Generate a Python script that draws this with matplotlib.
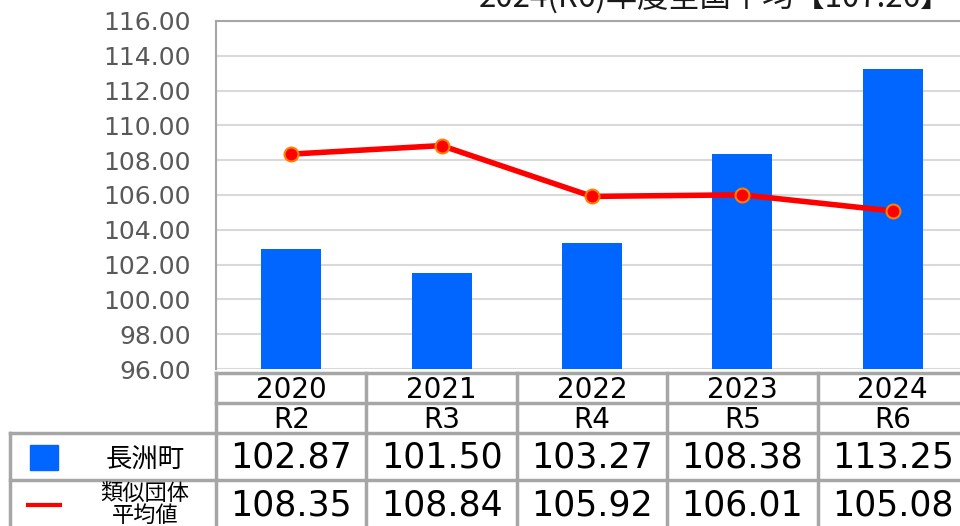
import numpy as np
import matplotlib.pyplot as plt

# data
years = ['2020', '2021', '2022', '2023', '2024']
eras = ['R2', 'R3', 'R4', 'R5', 'R6']
town_name = '長洲町'
group_name = '類似団体\n平均値'
town_vals = [102.87, 101.50, 103.27, 108.38, 113.25]
group_vals = [108.35, 108.84, 105.92, 106.01, 105.08]
title = '2024(R6)年度全国平均【107.26】'

W, H = 960, 526
fig = plt.figure(figsize=(W / 100, H / 100), dpi=100)

JP = ['Noto Sans CJK JP', 'DejaVu Sans']
grid_c = '#a6a6a6'


def fx(px):
    return px / W


def fy(py):
    return 1 - py / H


### plot area (in pixels: x 216..968, y 21..369)
left, right, top, bottom = 216, 968, 21, 369
ax = fig.add_axes([fx(left), fy(bottom), fx(right - left), (bottom - top) / H])

x = np.arange(len(years))
ax.bar(x, town_vals, width=0.4, color='#0066ff', zorder=2)
ax.plot(x, group_vals, color='#ff0000', lw=4, marker='o', ms=10,
        mfc='#ff0000', mec='#ff8000', mew=1.5, zorder=3)

ax.set_xlim(-0.5, len(years) - 0.5)
ax.set_ylim(96, 116)
ax.set_yticks(np.arange(96, 117, 2))
ax.set_yticklabels(['%.2f' % v for v in np.arange(96, 117, 2)])
ax.set_xticks([])
ax.tick_params(axis='y', length=0, pad=18, labelsize=18, labelcolor='#595959')
ax.grid(axis='y', color='#d9d9d9', lw=1.5, zorder=0)
for s in ['left', 'top']:
    ax.spines[s].set_color(grid_c)
    ax.spines[s].set_linewidth(1.5)
for s in ['right', 'bottom']:
    ax.spines[s].set_visible(False)

fig.text(fx(715), fy(7), title, ha='center', va='baseline', fontsize=22.5,
         family=JP, color='#1a1a1a')

### data table below the plot
col_w = (right - left) / len(years)
tbl_top, r1, r2, r3, tbl_bot = 373, 403, 433, 480, 540


def hline(y, x0, x1):
    fig.add_artist(plt.Line2D([fx(x0), fx(x1)], [fy(y), fy(y)], color=grid_c, lw=2.5))


def vline(xp, y0, y1):
    fig.add_artist(plt.Line2D([fx(xp), fx(xp)], [fy(y0), fy(y1)], color=grid_c, lw=2.5))


hline(tbl_top, left, W)
hline(r1, left, W)
hline(r2, 10, W)
hline(r3, 10, W)
vline(10, r2, tbl_bot)
for i in range(len(years) + 1):
    vline(left + i * col_w, tbl_top, tbl_bot)

for i in range(len(years)):
    cx = fx(left + (i + 0.5) * col_w)
    fig.text(cx, fy((tbl_top + r1) / 2 + 2), years[i], ha='center', va='center', fontsize=20)
    fig.text(cx, fy((r1 + r2) / 2 + 2), eras[i], ha='center', va='center', fontsize=20)
    fig.text(cx, fy((r2 + r3) / 2 + 1), '%.2f' % town_vals[i], ha='center', va='center', fontsize=25)
    fig.text(cx, fy(505), '%.2f' % group_vals[i], ha='center', va='center', fontsize=25)

# legend keys in the first column
fig.add_artist(plt.Rectangle((fx(30), fy(470)), fx(28), 25 / H, color='#0066ff'))
fig.add_artist(plt.Line2D([fx(28), fx(60)], [fy(505), fy(505)], color='#ff0000', lw=3))
fig.text(fx(145), fy(459), town_name, ha='center', va='center', fontsize=19, family=JP)
fig.text(fx(145), fy(505), group_name, ha='center', va='center', fontsize=16,
         family=JP, linespacing=0.9)

fig.savefig('out.png', dpi=100)
